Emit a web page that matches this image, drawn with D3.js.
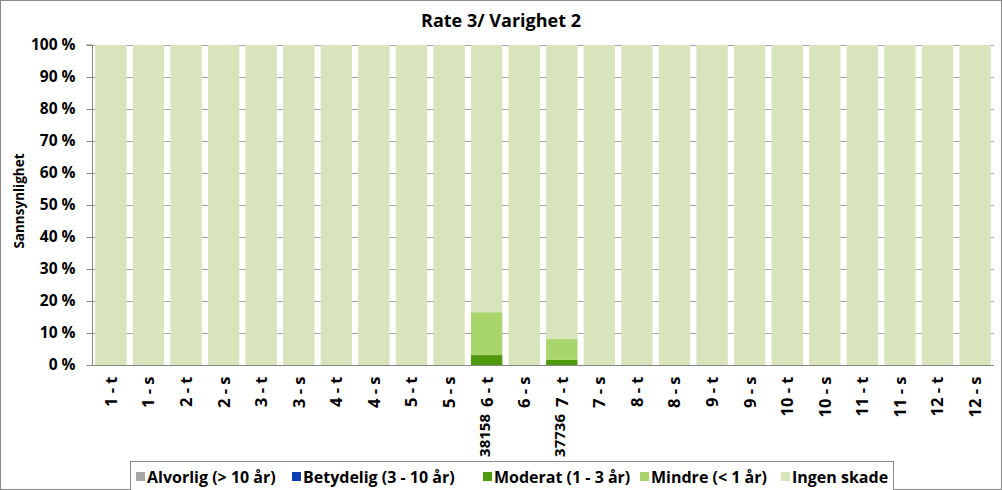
<!DOCTYPE html>
<html><head><meta charset="utf-8">
<script src="https://cdn.jsdelivr.net/npm/d3@7"></script>
<style>
html,body{margin:0;padding:0;background:#fff;}
svg{display:block;}
text{font-family:"Open Sans", "Noto Sans", sans-serif;font-weight:bold;fill:#000;}
</style></head><body>
<svg id="chart" width="1002" height="490"></svg>
<script>
const categories = ["1 - t","1 - s","2 - t","2 - s","3 - t","3 - s","4 - t","4 - s","5 - t","5 - s","6 - t","6 - s","7 - t","7 - s","8 - t","8 - s","9 - t","9 - s","10 - t","10 - s","11 - t","11 - s","12 - t","12 - s"];
const extraLabels = ["","","","","","","","","","","38158","","37736","","","","","","","","","","",""];
const seriesNames = ["Alvorlig (> 10 år)","Betydelig (3 - 10 år)","Moderat (1 - 3 år)","Mindre (< 1 år)","Ingen skade"];
const seriesColors = ["#a6a6a6","#0f3cb4","#4e9a0c","#a9d66c","#d8e4bc"];
const alvorlig  = [0,0,0,0,0,0,0,0,0,0,0,0,0,0,0,0,0,0,0,0,0,0,0,0];
const betydelig = [0,0,0,0,0,0,0,0,0,0,0,0,0,0,0,0,0,0,0,0,0,0,0,0];
const moderat   = [0,0,0,0,0,0,0,0,0,0,3.1,0,1.6,0,0,0,0,0,0,0,0,0,0,0];
const mindre    = [0,0,0,0,0,0,0,0,0,0,13.4,0,6.5,0,0,0,0,0,0,0,0,0,0,0];
const ingen     = [100,100,100,100,100,100,100,100,100,100,83.5,100,91.9,100,100,100,100,100,100,100,100,100,100,100];
const yTicks = [0,10,20,30,40,50,60,70,80,90,100];
const title = "Rate 3/ Varighet 2";
const yTitle = "Sannsynlighet";

const svg = d3.select("#chart");
const W = 1002, H = 490;
const m = {left:92, right:8, top:45, bottom:125};
const pw = W - m.left - m.right, ph = H - m.top - m.bottom;

svg.append("rect").attr("x",0.5).attr("y",0.5).attr("width",W-1).attr("height",H-1)
  .attr("fill","#fff").attr("stroke","#8c8c8c");

const x = d3.scaleBand().domain(categories).range([m.left, m.left+pw]).paddingInner(0.165).paddingOuter(0.085);
const y = d3.scaleLinear().domain([0,100]).range([m.top+ph, m.top]);

// gridlines
svg.append("g").selectAll("line").data(yTicks).join("line")
  .attr("x1",m.left).attr("x2",m.left+pw)
  .attr("y1",d=>Math.round(y(d))+0.5).attr("y2",d=>Math.round(y(d))+0.5)
  .attr("stroke","#a6a6a6").attr("stroke-width",1);

const rows = categories.map((c,i)=>({cat:c, s0:alvorlig[i], s1:betydelig[i], s2:moderat[i], s3:mindre[i], s4:ingen[i]}));
const stack = d3.stack().keys(["s0","s1","s2","s3","s4"]);
const layers = stack(rows);
svg.append("g").selectAll("g").data(layers).join("g")
  .attr("fill",(d,i)=>seriesColors[i])
  .selectAll("rect").data(d=>d).join("rect")
  .attr("x",d=>x(d.data.cat)).attr("width",x.bandwidth())
  .attr("y",d=>y(d[1])).attr("height",d=>y(d[0])-y(d[1]));

// y axis
const yAxis = d3.axisLeft(y).tickValues(yTicks).tickFormat(d=>d+" %").tickSize(6).tickPadding(11);
const ya = svg.append("g").attr("transform",`translate(${m.left+0.5},0)`).call(yAxis);
ya.attr("font-family",null).attr("font-size",null);
ya.select(".domain").attr("stroke","#868686").attr("d",`M-6,${y(100)}H0V${y(0)}`);
ya.selectAll(".tick line").attr("stroke","#868686");
ya.selectAll(".tick text").style("font-size","15.5px");

// x axis
const xAxis = d3.axisBottom(x).tickSize(0).tickPadding(0);
const xa = svg.append("g").attr("transform",`translate(0,${m.top+ph+0.5})`).call(xAxis);
xa.attr("font-family",null).attr("font-size",null);
xa.select(".domain").attr("stroke","#868686").attr("d",`M${m.left},0H${m.left+pw}`);
xa.selectAll(".tick text")
  .attr("transform","rotate(-90)").attr("text-anchor","end")
  .attr("x",-11).attr("y",0).attr("dy","0.36em")
  .style("font-size","16.5px");

svg.append("g").selectAll("text").data(categories.map((c,i)=>({c,t:extraLabels[i]})).filter(d=>d.t))
  .join("text")
  .attr("transform",d=>`translate(${x(d.c)+x.bandwidth()/2-2},${m.top+ph+49}) rotate(-90)`)
  .attr("text-anchor","end").attr("dy","0.36em")
  .style("font-size","15px").text(d=>d.t);

// title
svg.append("text").attr("x",501).attr("y",27).attr("text-anchor","middle").style("font-size","18px").text(title);
svg.append("text").attr("transform",`translate(24,201) rotate(-90)`)
  .attr("text-anchor","middle").style("font-size","13.5px").text(yTitle);

// legend
const lg = svg.append("g");
lg.append("rect").attr("x",130.5).attr("y",461.5).attr("width",763).attr("height",30).attr("fill","#fff").attr("stroke","#8c8c8c");
const legX = [136,292,483,640,781];
seriesNames.forEach((n,i)=>{
  lg.append("rect").attr("x",legX[i]).attr("y",472).attr("width",9).attr("height",9).attr("fill",seriesColors[i]);
  lg.append("text").attr("x",legX[i]+11).attr("y",482.5).style("font-size","16px").text(n);
});
</script></body></html>
